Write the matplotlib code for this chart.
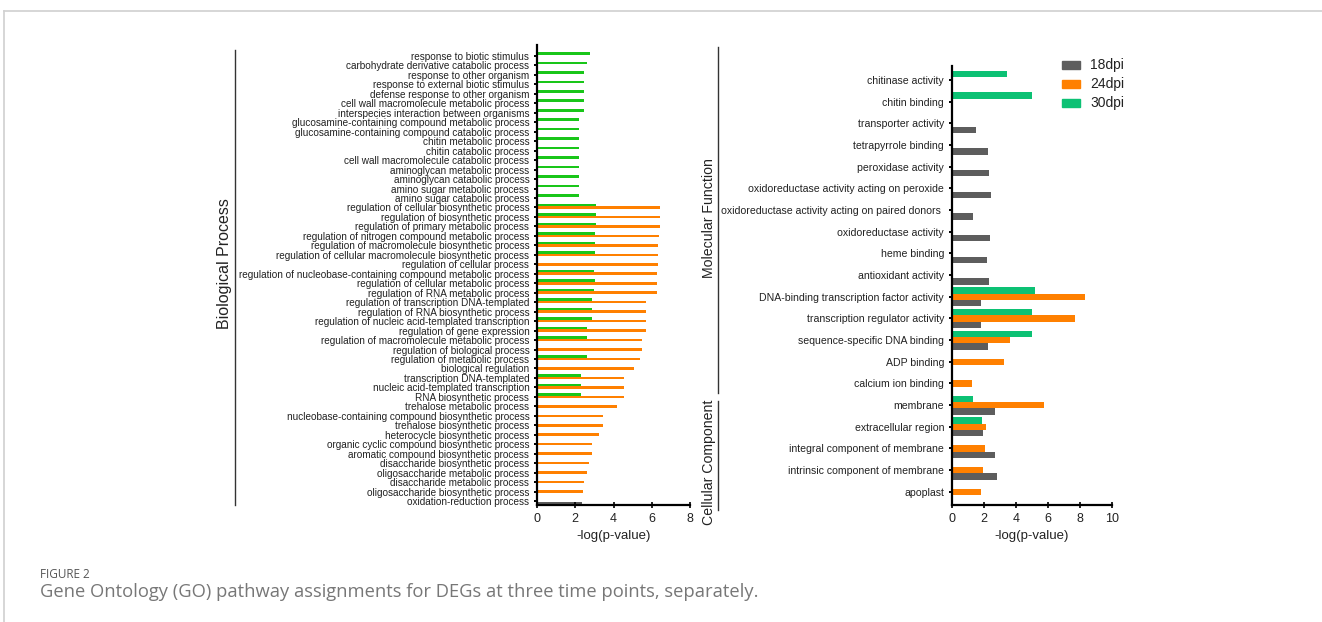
import matplotlib
matplotlib.use("Agg")
import matplotlib.pyplot as plt
import numpy as np
from matplotlib.lines import Line2D
from matplotlib.patches import Rectangle

plt.rcParams['font.family'] = ['Liberation Sans', 'DejaVu Sans']

# ---------------- data ----------------
bp_labels = [
    "response to biotic stimulus",
    "carbohydrate derivative catabolic process",
    "response to other organism",
    "response to external biotic stimulus",
    "defense response to other organism",
    "cell wall macromolecule metabolic process",
    "interspecies interaction between organisms",
    "glucosamine-containing compound metabolic process",
    "glucosamine-containing compound catabolic process",
    "chitin metabolic process",
    "chitin catabolic process",
    "cell wall macromolecule catabolic process",
    "aminoglycan metabolic process",
    "aminoglycan catabolic process",
    "amino sugar metabolic process",
    "amino sugar catabolic process",
    "regulation of cellular biosynthetic process",
    "regulation of biosynthetic process",
    "regulation of primary metabolic process",
    "regulation of nitrogen compound metabolic process",
    "regulation of macromolecule biosynthetic process",
    "regulation of cellular macromolecule biosynthetic process",
    "regulation of cellular process",
    "regulation of nucleobase-containing compound metabolic process",
    "regulation of cellular metabolic process",
    "regulation of RNA metabolic process",
    "regulation of transcription DNA-templated",
    "regulation of RNA biosynthetic process",
    "regulation of nucleic acid-templated transcription",
    "regulation of gene expression",
    "regulation of macromolecule metabolic process",
    "regulation of biological process",
    "regulation of metabolic process",
    "biological regulation",
    "transcription DNA-templated",
    "nucleic acid-templated transcription",
    "RNA biosynthetic process",
    "trehalose metabolic process",
    "nucleobase-containing compound biosynthetic process",
    "trehalose biosynthetic process",
    "heterocycle biosynthetic process",
    "organic cyclic compound biosynthetic process",
    "aromatic compound biosynthetic process",
    "disaccharide biosynthetic process",
    "oligosaccharide metabolic process",
    "disaccharide metabolic process",
    "oligosaccharide biosynthetic process",
    "oxidation-reduction process",
]
bp_18dpi = [0] * 47 + [2.37]
bp_24dpi = [0] * 16 + [6.44, 6.44, 6.42, 6.39, 6.34, 6.35, 6.32, 6.30, 6.30, 6.27,
                       5.70, 5.70, 5.70, 5.68, 5.51, 5.49, 5.37, 5.06,
                       4.55, 4.55, 4.55, 4.16, 3.43, 3.43, 3.22, 2.89, 2.89,
                       2.74, 2.61, 2.48, 2.39] + [0]
bp_30dpi = [2.77, 2.60, 2.46, 2.46, 2.46, 2.46, 2.46,
            2.20, 2.20, 2.20, 2.20, 2.20, 2.20, 2.20, 2.20, 2.20,
            3.10, 3.10, 3.10, 3.01, 3.05, 3.05, 0, 2.98, 3.05, 2.98,
            2.87, 2.87, 2.87, 2.63, 2.63, 0, 2.60, 0, 2.29, 2.29, 2.29] + [0] * 11

mc_labels = [
    "chitinase activity",
    "chitin binding",
    "transporter activity",
    "tetrapyrrole binding",
    "peroxidase activity",
    "oxidoreductase activity acting on peroxide",
    "oxidoreductase activity acting on paired donors ",
    "oxidoreductase activity",
    "heme binding",
    "antioxidant activity",
    "DNA-binding transcription factor activity",
    "transcription regulator activity",
    "sequence-specific DNA binding",
    "ADP binding",
    "calcium ion binding",
    "membrane",
    "extracellular region",
    "integral component of membrane",
    "intrinsic component of membrane",
    "apoplast",
]
mc_18dpi = [0, 0, 1.51, 2.26, 2.30, 2.47, 1.31, 2.39, 2.22, 2.34, 1.85, 1.80, 2.24, 0, 0,
            2.72, 1.93, 2.72, 2.82, 0]
mc_24dpi = [0] * 10 + [8.34, 7.72, 3.61, 3.26, 1.29, 5.73, 2.14, 2.05, 1.93, 1.83]
mc_30dpi = [3.46, 5.04] + [0] * 8 + [5.19, 5.02, 4.98, 0, 0, 1.31, 1.87, 0, 0, 0]

series_names = ["18dpi", "24dpi", "30dpi"]
left_ticks = [0, 2, 4, 6, 8]
right_ticks = [0, 2, 4, 6, 8, 10]

# ---------------- style ----------------
C_GRAY = "#5d5d5d"
C_ORANGE = "#ff8000"
C_GREEN_L = "#19c619"
C_GREEN_R = "#0cc174"

W, H = 1322, 622
fig = plt.figure(figsize=(W / 100, H / 100), dpi=100)


def fx(px):
    return px / W


def fy(py):
    return 1 - py / H


def style_axes(ax, ticks, xmax):
    for s in ("top", "right"):
        ax.spines[s].set_visible(False)
    for s in ("left", "bottom"):
        ax.spines[s].set_linewidth(1.6)
        ax.spines[s].set_color("black")
    ax.set_xlim(0, xmax)
    ax.set_xticks(ticks)
    ax.tick_params(axis="x", direction="inout", length=4, width=1.2, labelsize=9, pad=4,
                   colors="black", labelcolor="#222222")
    ax.tick_params(axis="y", direction="out", length=2.5, width=1.4, pad=3, labelcolor="#222222")
    ax.set_xlabel("-log(p-value)", fontsize=9.5, color="#222222", labelpad=3)


# ---- left panel ----
axL = fig.add_axes([fx(537), fy(505), fx(690) - fx(537), fy(45) - fy(505)])
nL = len(bp_labels)
yL = np.arange(nL)
hL = 0.27
axL.barh(yL - hL, bp_30dpi, height=hL, color=C_GREEN_L, linewidth=0)
axL.barh(yL, bp_24dpi, height=hL, color=C_ORANGE, linewidth=0)
axL.barh(yL + hL, bp_18dpi, height=hL, color=C_GRAY, linewidth=0)
axL.set_yticks(yL)
axL.set_yticklabels(bp_labels, fontsize=7.2)
axL.set_ylim(nL - 1 + 0.42, -1.16)
style_axes(axL, left_ticks, 8)

# ---- right panel ----
axR = fig.add_axes([fx(951.7), fy(505), fx(1112) - fx(951.7), fy(66) - fy(505)])
nR = len(mc_labels)
yR = np.arange(nR)
hR = 0.29
axR.barh(yR - hR, mc_30dpi, height=hR, color=C_GREEN_R, linewidth=0)
axR.barh(yR, mc_24dpi, height=hR, color=C_ORANGE, linewidth=0)
axR.barh(yR + hR, mc_18dpi, height=hR, color=C_GRAY, linewidth=0)
axR.set_yticks(yR)
axR.set_yticklabels(mc_labels, fontsize=7.6)
axR.set_ylim(nR - 1 + 0.61, -0.65)
style_axes(axR, right_ticks, 10)

# ---- legend ----
leg_colors = [C_GRAY, C_ORANGE, C_GREEN_R]
leg_y = [65, 84.3, 103.3]
for name, col, yy in zip(series_names, leg_colors, leg_y):
    fig.add_artist(Rectangle((fx(1062), fy(yy + 4)), fx(18), 8 / H, color=col,
                             transform=fig.transFigure))
    fig.text(fx(1090), fy(yy), name, fontsize=10, va="center", ha="left", color="#222222")

# ---- category brackets ----
brk = "#333333"
fig.add_artist(Line2D([fx(235), fx(235)], [fy(50), fy(505)], color=brk, lw=1.0))
fig.text(fx(225), fy(264), "Biological Process", rotation=90, fontsize=11.5,
         ha="center", va="center", color="#222222")
fig.add_artist(Line2D([fx(718), fx(718)], [fy(47), fy(393)], color=brk, lw=1.0))
fig.text(fx(709), fy(218), "Molecular Function", rotation=90, fontsize=10.2,
         ha="center", va="center", color="#222222")
fig.add_artist(Line2D([fx(718), fx(718)], [fy(401), fy(510)], color=brk, lw=1.0))
fig.text(fx(709), fy(462), "Cellular Component", rotation=90, fontsize=10.2,
         ha="center", va="center", color="#222222")

# ---- frame lines ----
fig.add_artist(Line2D([fx(3.5), 1], [fy(11), fy(11)], color="#d0d0d0", lw=1.2))
fig.add_artist(Line2D([fx(3.5), fx(3.5)], [fy(11), 0], color="#d0d0d0", lw=1.2))

# ---- caption ----
fig.text(fx(40), fy(575), "FIGURE 2", fontsize=8.5, color="#555555", family=["Open Sans", "DejaVu Sans"],
         ha="left", va="center")
fig.text(fx(40), fy(592), "Gene Ontology (GO) pathway assignments for DEGs at three time points, separately.",
         fontsize=13.2, color="#777777", family=["Open Sans", "DejaVu Sans"], ha="left", va="center")

fig.savefig("out.png", dpi=100)
